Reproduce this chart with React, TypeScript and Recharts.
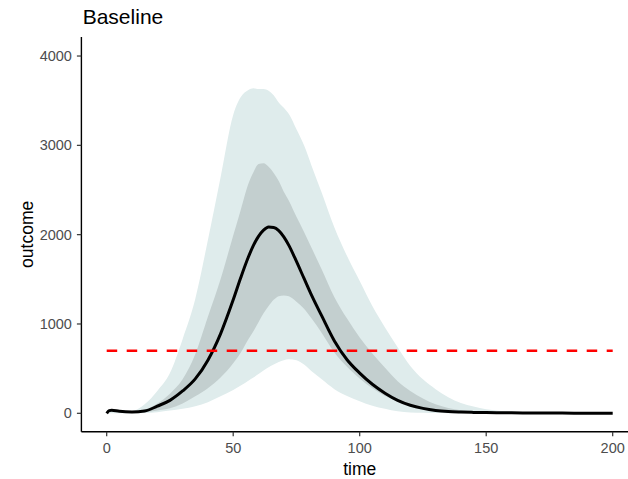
import React from 'react';
import {
  ComposedChart,
  Area,
  Line,
  XAxis,
  YAxis,
  ReferenceLine,
  Label,
} from 'recharts';

// Simulated outcome over time: mean trajectory with 50% and 95% intervals
const TIME = [0, 1, 2, 5, 10, 15, 20, 25, 30, 35, 40, 45, 50, 53, 56, 58, 60, 62, 64, 66, 68, 70, 72, 75, 78, 81, 85, 90, 95, 100, 105, 110, 115, 120, 125, 130, 135, 140, 145, 150, 160, 170, 180, 190, 200];
const MEAN = [0, 30, 35, 22, 15, 25, 80, 145, 250, 385, 595, 890, 1270, 1520, 1750, 1880, 1980, 2050, 2085, 2080, 2045, 1975, 1880, 1700, 1510, 1320, 1090, 810, 600, 450, 325, 225, 145, 90, 55, 32, 20, 14, 10, 8, 5, 3, 2, 1, 1];
const LO50 = [0, 30, 35, 22, 12, 12, 30, 56, 110, 190, 280, 400, 560, 680, 830, 920, 1020, 1120, 1200, 1270, 1310, 1320, 1310, 1250, 1170, 1060, 900, 680, 520, 390, 280, 195, 140, 100, 68, 42, 28, 18, 12, 8, 4, 2, 1, 1, 0];
const HI50 = [0, 30, 35, 22, 18, 40, 110, 220, 380, 660, 1080, 1500, 1990, 2280, 2570, 2700, 2790, 2800, 2760, 2690, 2600, 2480, 2380, 2200, 2030, 1850, 1610, 1300, 1060, 850, 670, 510, 360, 250, 165, 100, 60, 35, 22, 14, 7, 4, 2, 1, 1];
const LO95 = [0, 0, 0, 0, 0, 2, 12, 30, 50, 80, 125, 190, 260, 310, 365, 400, 440, 480, 515, 545, 575, 595, 605, 595, 545, 470, 380, 270, 195, 135, 85, 50, 22, 10, 5, 2, 0, 0, 0, 0, 0, 0, 0, 0, 0];
const HI95 = [0, 30, 35, 25, 25, 100, 250, 450, 830, 1280, 1940, 2640, 3340, 3540, 3620, 3640, 3630, 3630, 3610, 3560, 3480, 3420, 3350, 3180, 3000, 2770, 2470, 2080, 1760, 1480, 1200, 960, 740, 530, 380, 270, 180, 115, 75, 45, 18, 8, 3, 1, 0];

const THRESHOLD = 700;
const X_TICKS = [0, 50, 100, 150, 200];
const Y_TICKS = [0, 1000, 2000, 3000, 4000];

const data = TIME.map((t, i) => ({
  time: t,
  mean: MEAN[i],
  band50: [LO50[i], HI50[i]],
  band95: [LO95[i], HI95[i]],
}));

const FONT = '"Liberation Sans", Arial, sans-serif';
const tickStyle = { fill: '#4d4d4d', fontSize: 14.5, fontFamily: FONT };

export default function App() {
  return (
    <div
      style={{
        position: 'absolute',
        left: 0,
        top: 0,
        width: 628,
        height: 479,
        overflow: 'hidden',
        background: '#fff',
      }}
    >
      <ComposedChart
        width={650}
        height={479}
        data={data}
        margin={{ top: 37, right: 12, bottom: 0, left: 0 }}
      >
        <XAxis
          dataKey="time"
          type="number"
          domain={[-10, 210]}
          ticks={X_TICKS}
          allowDataOverflow
          height={47.3}
          tickSize={4.5}
          tickMargin={6.5}
          axisLine={{ stroke: '#000', strokeWidth: 1.4 }}
          tickLine={{ stroke: '#333', strokeWidth: 1.2 }}
          tick={tickStyle}
        >
          <Label
            value="time"
            position="insideBottom"
            offset={4.5}
            style={{ fill: '#000', fontSize: 17.5, fontFamily: FONT }}
          />
        </XAxis>
        <YAxis
          type="number"
          domain={[-206, 4213]}
          ticks={Y_TICKS}
          allowDataOverflow
          width={81.4}
          tickSize={4.5}
          tickMargin={5}
          axisLine={{ stroke: '#000', strokeWidth: 1.4 }}
          tickLine={{ stroke: '#333', strokeWidth: 1.2 }}
          tick={tickStyle}
        >
          <Label
            content={(props: any) => {
              const vb = props.viewBox || {};
              const x = (vb.x ?? 0) + 33.3;
              const y = (vb.y ?? 0) + (vb.height ?? 0) / 2;
              return (
                <text
                  x={x}
                  y={y}
                  transform={`rotate(-90, ${x}, ${y})`}
                  textAnchor="middle"
                  fill="#000"
                  fontSize={17.5}
                  fontFamily={FONT}
                >
                  outcome
                </text>
              );
            }}
          />
        </YAxis>
        <Area
          dataKey="band95"
          type="monotone"
          stroke="none"
          fill="#dfecec"
          fillOpacity={1}
          isAnimationActive={false}
          activeDot={false}
        />
        <Area
          dataKey="band50"
          type="monotone"
          stroke="none"
          fill="#c3cfcf"
          fillOpacity={1}
          isAnimationActive={false}
          activeDot={false}
        />
        <Line
          dataKey="mean"
          type="monotone"
          stroke="#000"
          strokeWidth={3}
          strokeLinejoin="round"
          dot={false}
          activeDot={false}
          isAnimationActive={false}
        />
        <ReferenceLine
          segment={[
            { x: 0, y: THRESHOLD },
            { x: 200, y: THRESHOLD },
          ]}
          stroke="#ff0000"
          strokeWidth={2.6}
          strokeDasharray="10.5 9.5"
        />
      </ComposedChart>
      <svg
        width={628}
        height={40}
        style={{ position: 'absolute', left: 0, top: 0, pointerEvents: 'none' }}
      >
        <text x={82.7} y={24} fontSize={21} fontFamily={FONT} fill="#000">
          Baseline
        </text>
      </svg>
    </div>
  );
}
